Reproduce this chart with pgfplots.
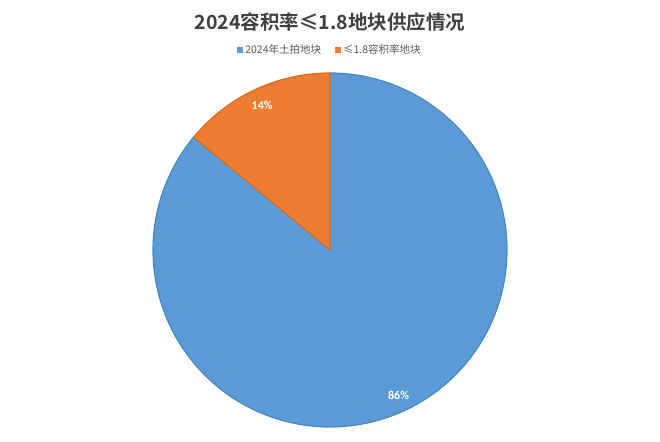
\documentclass[border=0pt]{standalone}
\usepackage{pgfplots}
\pgfplotsset{compat=1.18}
\usepackage{fontspec}
\setmainfont{Carlito}
\newfontfamily\cjk[BoldFont={Noto Sans CJK SC Bold}]{Noto Sans CJK SC}
\definecolor{pieblue}{HTML}{5B9BD5}
\definecolor{pieorange}{HTML}{ED7D31}
\definecolor{blueedge}{HTML}{4A86C4}
\definecolor{orangeedge}{HTML}{D56B27}
% data (percent)
\def\vA{86}
\def\vB{14}
\pgfmathsetmacro{\aB}{90+3.6*\vB}
\pgfmathsetmacro{\mB}{(90+\aB)/2}
\pgfmathsetmacro{\mA}{(\aB+450)/2}
\pgfmathsetmacro{\xB}{0.90*cos(\mB)}
\pgfmathsetmacro{\yB}{0.90*sin(\mB)}
\pgfmathsetmacro{\xA}{0.91*cos(\mA)}
\pgfmathsetmacro{\yA}{0.91*sin(\mA)}
\begin{document}
\begin{tikzpicture}
\path[use as bounding box] (0pt,0pt) rectangle (660pt,441pt);
\node[font=\cjk\bfseries\fontsize{19.5}{22}\selectfont, text=black!75] at (330pt,419pt) {2024容积率≤1.8地块供应情况};
\begin{axis}[at={(330pt,191pt)}, anchor=center, scale only axis,
  width=354pt, height=354pt, xmin=-1, xmax=1, ymin=-1, ymax=1,
  hide axis, clip=false,
  legend columns=2,
  legend style={at={(0.5,1)}, anchor=center, yshift=23pt, draw=none, fill=none,
    font=\cjk\fontsize{10.5}{12}\selectfont, text=black!65, inner sep=0pt,
    /tikz/every even column/.append style={column sep=12pt}},
  legend image code/.code={\fill[#1, draw=none] (0pt,-3pt) rectangle (6pt,3pt);},
]
\addplot[fill=pieblue, draw=blueedge, line width=1.2pt, line join=round, domain=\aB:450, samples=200, variable=\t] ({cos(\t)},{sin(\t)}) -- (0,0) -- cycle;
\addlegendentry{2024年土拍地块}
\addplot[fill=pieorange, draw=orangeedge, line width=1.2pt, line join=round, domain=90:\aB, samples=80, variable=\t] ({cos(\t)},{sin(\t)}) -- (0,0) -- cycle;
\addlegendentry{≤1.8容积率地块}
\node[font=\bfseries\fontsize{12}{14}\selectfont, text=white] at (axis cs:\xB,\yB) {14\%};
\node[font=\bfseries\fontsize{12}{14}\selectfont, text=white] at (axis cs:\xA,\yA) {86\%};
\end{axis}
\end{tikzpicture}
\end{document}
